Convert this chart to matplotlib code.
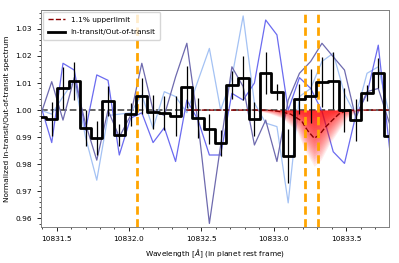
import numpy as np
import matplotlib
matplotlib.use('Agg')
import matplotlib.pyplot as plt
from matplotlib.ticker import MultipleLocator, AutoMinorLocator

plt.rcParams['font.size'] = 5.3
plt.rcParams['font.family'] = 'DejaVu Sans'

# bin centers of the binned ratio (Angstrom)
wl0 = 10831.3887
dwl = 0.0778
wave = wl0 + dwl * np.arange(32)

# in-transit / out-of-transit (binned)
ratio = [0.9976, 0.9967, 1.0081, 1.0109, 0.9933, 0.9898, 1.0035, 0.9908,
         0.9984, 1.0052, 0.9994, 0.9988, 0.9978, 1.0084, 0.9970, 0.9930,
         0.9880, 1.0093, 1.0118, 0.9966, 1.0138, 1.0068, 0.9831, 1.0040,
         1.0052, 1.0105, 1.0109, 1.0000, 0.9963, 1.0062, 1.0136, 0.9904]
ratio_err = [0.0055, 0.0063, 0.0078, 0.0070, 0.0067, 0.0063, 0.0055, 0.0041,
             0.0041, 0.0067, 0.0063, 0.0063, 0.0074, 0.0078, 0.0074, 0.0055,
             0.0048, 0.0052, 0.0081, 0.0063, 0.0078, 0.0030, 0.0100, 0.0055,
             0.0100, 0.0092, 0.0104, 0.0081, 0.0078, 0.0030, 0.0055, 0.0074]

# individual transits
transit_a = [1.000, 0.9985, 1.005, 1.011, 0.990, 0.9741, 0.998, 0.9985,
             0.999, 1.0056, 0.9933, 1.0068, 1.005, 0.999, 1.011, 1.0228,
             1.000, 1.012, 1.0348, 1.0026, 0.9952, 0.9939, 0.9657, 1.005,
             1.008, 1.018, 1.021, 1.006, 0.998, 1.0136, 1.016, 0.998]
transit_b = [1.002, 0.988, 1.0173, 1.0148, 0.9926, 1.013, 1.011, 0.9834,
             0.997, 0.999, 0.988, 0.9935, 0.981, 1.0037, 0.9963, 0.9834,
             0.9834, 1.0062, 1.0037, 1.010, 1.0333, 1.0278, 1.000, 1.012,
             1.008, 0.9996, 0.9846, 0.9803, 0.998, 1.006, 1.024, 0.986]
transit_c = [0.998, 1.0105, 0.9963, 1.012, 0.995, 0.9815, 1.000, 0.990,
             0.998, 1.0173, 1.000, 0.998, 1.0123, 1.0247, 0.995, 0.9581,
             0.987, 1.016, 1.0087, 0.9871, 0.9963, 0.981, 1.0037, 1.0136,
             1.018, 1.0247, 1.0197, 1.0148, 0.997, 1.0068, 1.008, 0.995]

# upper limit model
model_wl = [10832.40, 10832.95, 10833.00, 10833.05, 10833.117, 10833.193,
            10833.232, 10833.280, 10833.315, 10833.356, 10833.404, 10833.452,
            10833.50, 10833.55, 10833.80]
model_val = [1.0000, 1.0000, 0.9998, 0.9994, 0.9985, 0.9960,
             0.9926, 0.9896, 0.9908, 0.9936, 0.9962, 0.9986,
             0.9997, 1.0000, 1.0000]
model_center = 10833.28

he_lines = [10832.057, 10833.217, 10833.306]

fig = plt.figure(figsize=(3.99, 2.63), dpi=100)
ax = fig.add_axes([0.103, 0.137, 0.872, 0.825])

ax.plot(wave, transit_a, color='#a4c2f4', lw=0.9, zorder=2)
ax.plot(wave, transit_b, color='#6b6bf0', lw=0.9, zorder=2)
ax.plot(wave, transit_c, color='#6e6aae', lw=0.9, zorder=2)

ax.axhline(1.0, color='0.35', ls='--', lw=1.3, zorder=1)

# red glow below the upper limit
mwl = np.array(model_wl)
mdepth = 1.0 - np.array(model_val)
for s in np.linspace(0.1, 2.0, 22):
    stretch = 1.0 + 0.35 * max(s - 1.0, 0)
    ax.fill_between(model_center + (mwl - model_center) * stretch, 1.0,
                    1.0 - mdepth * s, color='red', alpha=0.07, lw=0, zorder=3)
ax.plot(mwl, model_val, color='#8b0000', ls='--', lw=1.0, zorder=4, label='1.1% upperlimit')

for w in he_lines:
    ax.axvline(w, color='orange', ls='--', lw=2, dashes=(3, 1.6), zorder=5)

ax.errorbar(wave, ratio, yerr=ratio_err, fmt='none', ecolor='black', elinewidth=0.9, zorder=6)
ax.plot(wave, ratio, color='black', lw=2, drawstyle='steps-mid', zorder=7,
        label='In-transit/Out-of-transit')

ax.set_xlim(10831.393, 10833.797)
ax.set_ylim(0.9568, 1.0370)
ax.ticklabel_format(useOffset=False)
ax.xaxis.set_major_locator(MultipleLocator(0.5))
ax.xaxis.set_minor_locator(AutoMinorLocator(5))
ax.yaxis.set_major_locator(MultipleLocator(0.01))
ax.yaxis.set_minor_locator(AutoMinorLocator(5))
ax.yaxis.set_major_formatter(plt.FormatStrFormatter('%.2f'))
ax.xaxis.set_major_formatter(plt.FormatStrFormatter('%.1f'))
ax.tick_params(which='major', length=3, width=0.6)
ax.tick_params(which='minor', length=1.6, width=0.5)
for sp in ax.spines.values():
    sp.set_color('0.5')
    sp.set_linewidth(0.7)

ax.set_xlabel(r'Wavelength [$\AA$] (in planet rest frame)')
ax.set_ylabel('Normalized In-transit/Out-of-transit spectrum')
ax.legend(loc='upper left', fontsize=5.3, handlelength=2.4, handletextpad=0.7,
          borderpad=0.65, labelspacing=0.85, borderaxespad=0.25)

plt.savefig('out.png', dpi=100)
